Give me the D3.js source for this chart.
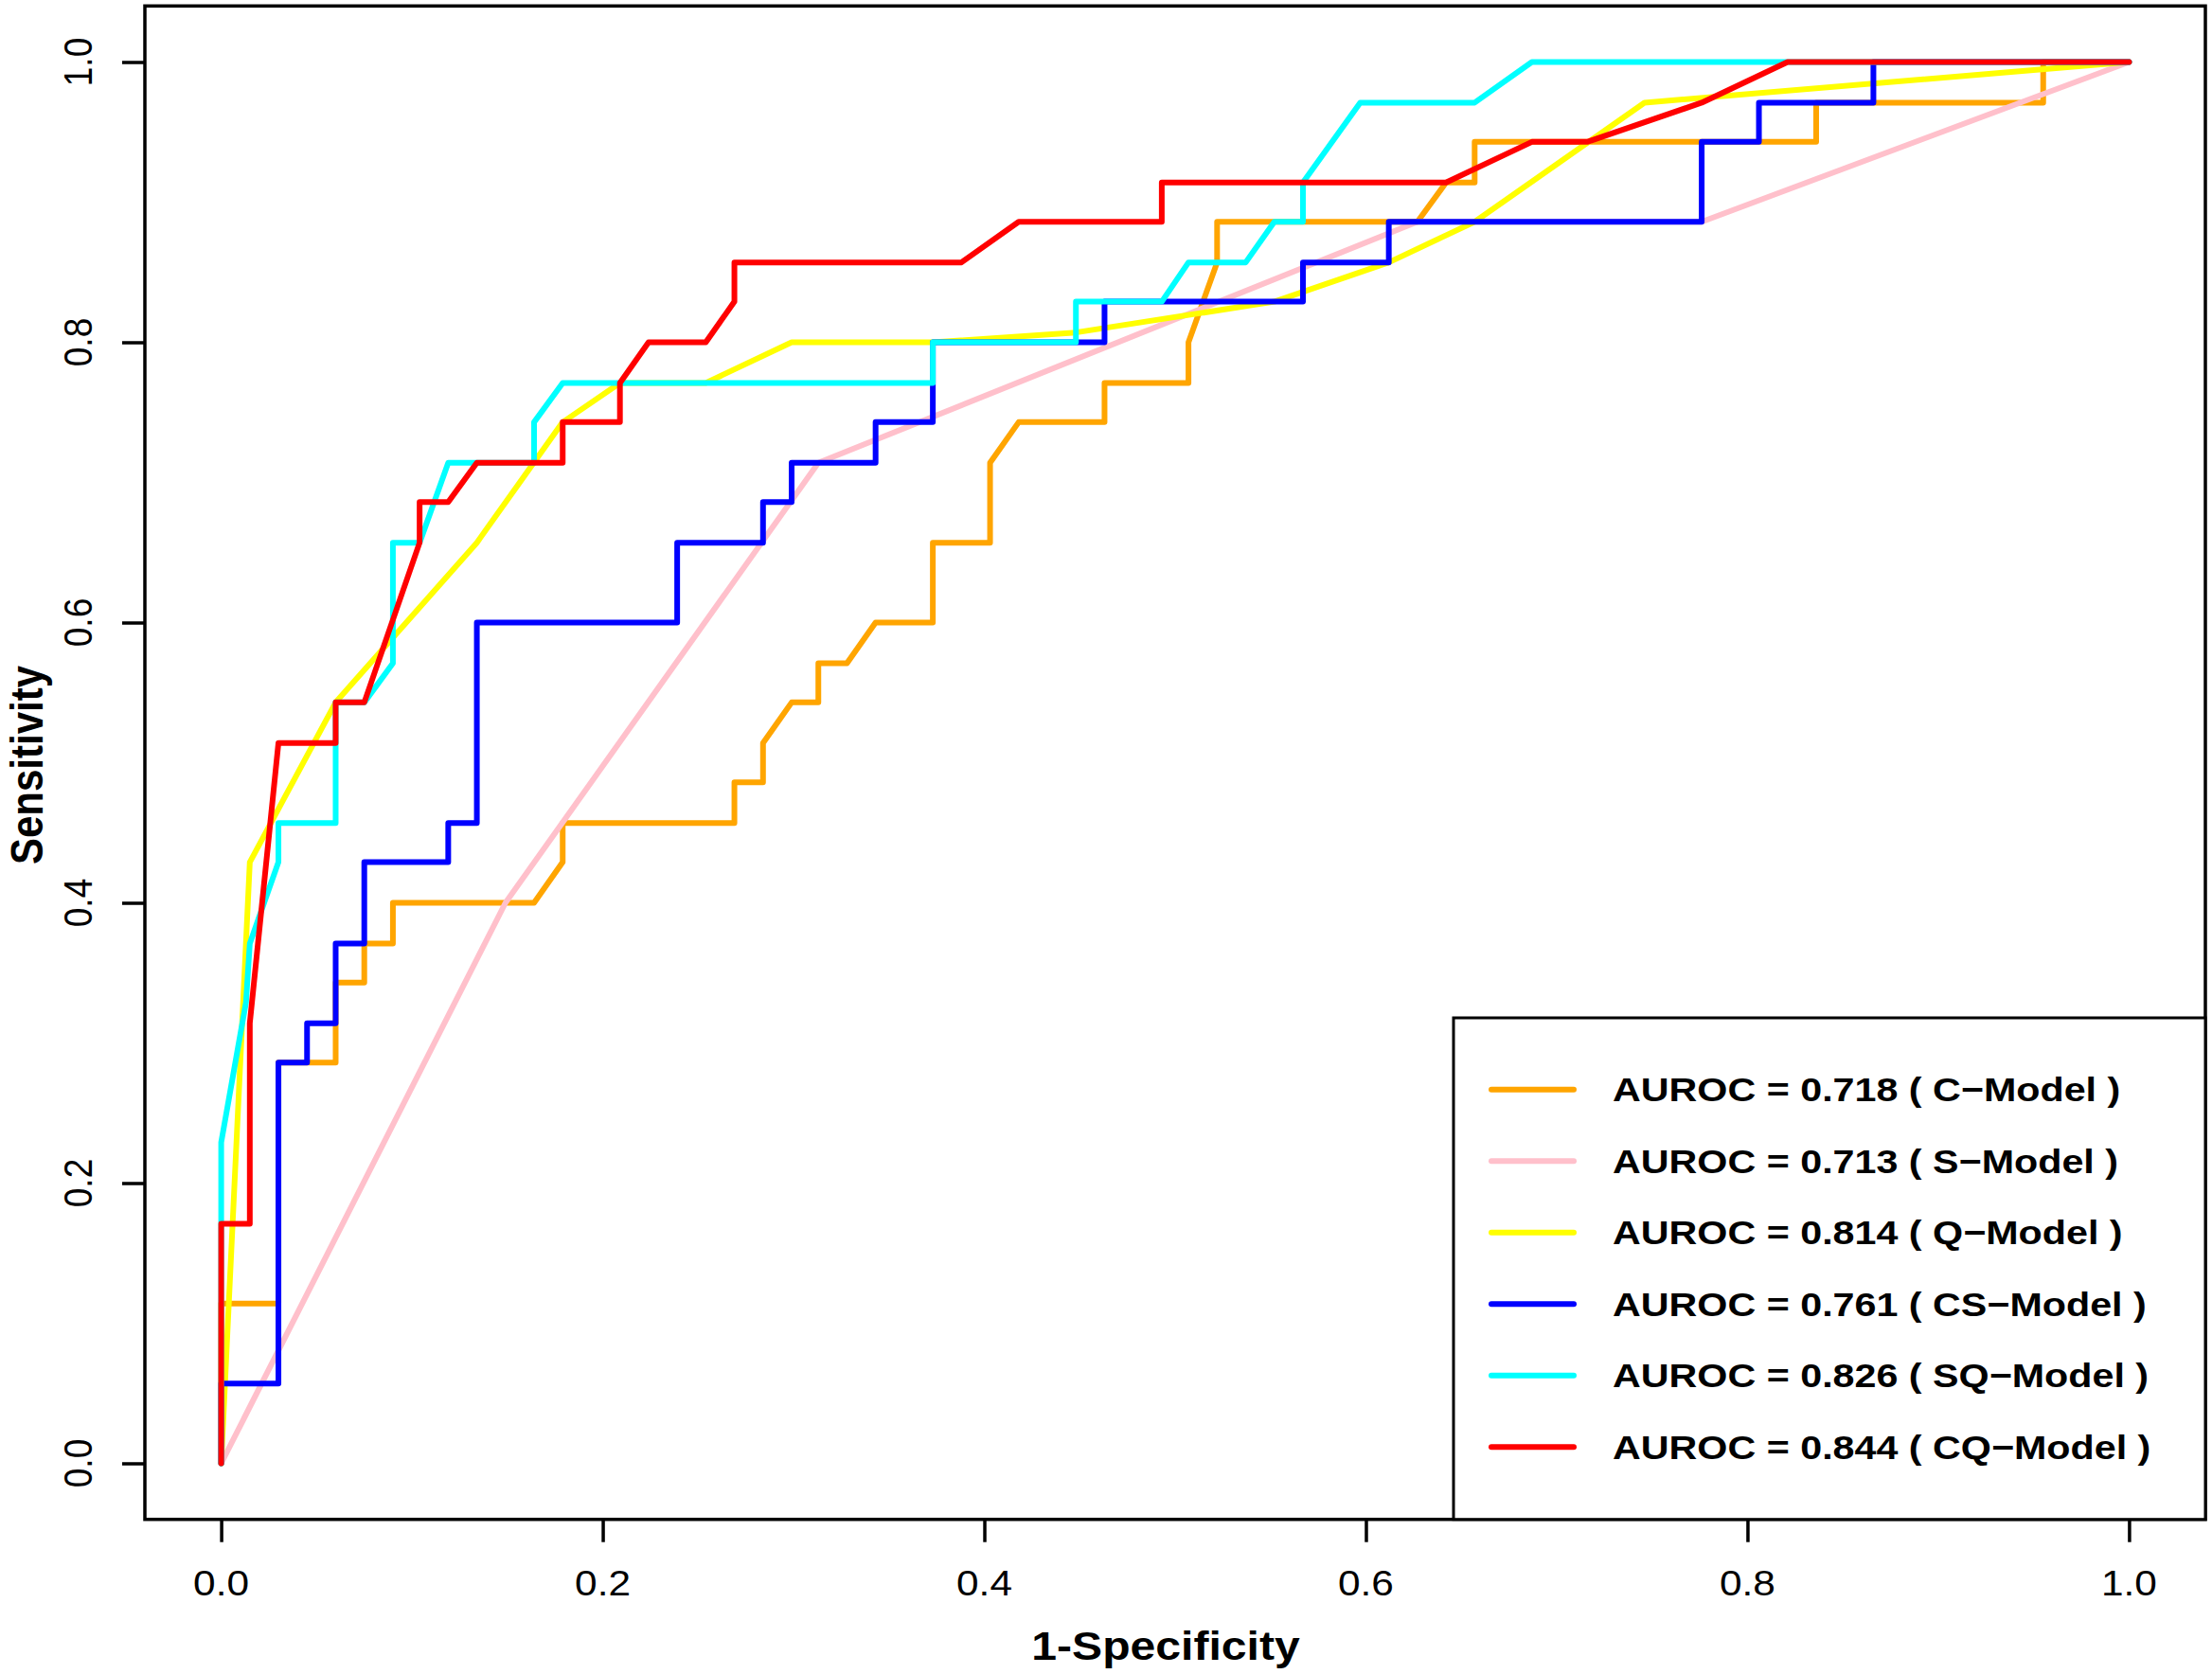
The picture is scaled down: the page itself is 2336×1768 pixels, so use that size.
<!DOCTYPE html>
<html><head><meta charset="utf-8">
<script src="https://cdn.jsdelivr.net/npm/d3@7"></script>
<style>body{margin:0;background:#fff}svg{display:block}</style>
</head><body>
<script>
// ---- data ----
const models = ["C-Model", "S-Model", "Q-Model", "CS-Model", "SQ-Model", "CQ-Model"];
const aurocs = [0.718, 0.713, 0.814, 0.761, 0.826, 0.844];
const colors = ["#FFA500", "#FFC0CB", "#FFFF00", "#0000FF", "#00FFFF", "#FF0000"];
const xTicks = [0, 0.2, 0.4, 0.6, 0.8, 1.0];
const yTicks = [0, 0.2, 0.4, 0.6, 0.8, 1.0];
const xTitle = "1-Specificity";
const yTitle = "Sensitivity";

const fprC = [0, 0, 0.030, 0.030, 0.060, 0.060, 0.075, 0.075, 0.090, 0.090, 0.164, 0.179, 0.179, 0.269, 0.269, 0.284, 0.284, 0.299, 0.313, 0.313, 0.328, 0.343, 0.373, 0.373, 0.403, 0.403, 0.418, 0.463, 0.463, 0.507, 0.507, 0.522, 0.522, 0.627, 0.642, 0.657, 0.657, 0.836, 0.836, 0.955, 0.955, 1];
const tprC = [0, 0.114, 0.114, 0.286, 0.286, 0.343, 0.343, 0.371, 0.371, 0.400, 0.400, 0.429, 0.457, 0.457, 0.486, 0.486, 0.514, 0.543, 0.543, 0.571, 0.571, 0.600, 0.600, 0.657, 0.657, 0.714, 0.743, 0.743, 0.771, 0.771, 0.800, 0.857, 0.886, 0.886, 0.914, 0.914, 0.943, 0.943, 0.971, 0.971, 1, 1];

const fprS = [0, 0.149, 0.313, 0.627, 0.776, 1];
const tprS = [0, 0.400, 0.714, 0.886, 0.886, 1];

const fprQ = [0, 0.015, 0.060, 0.134, 0.179, 0.209, 0.254, 0.299, 0.373, 0.448, 0.552, 0.612, 0.657, 0.746, 1];
const tprQ = [0, 0.429, 0.543, 0.657, 0.743, 0.771, 0.771, 0.800, 0.800, 0.807, 0.829, 0.857, 0.886, 0.971, 1];

const fprCS = [0, 0, 0.030, 0.030, 0.045, 0.045, 0.060, 0.060, 0.075, 0.075, 0.119, 0.119, 0.134, 0.134, 0.239, 0.239, 0.284, 0.284, 0.299, 0.299, 0.343, 0.343, 0.373, 0.373, 0.463, 0.463, 0.567, 0.567, 0.612, 0.612, 0.776, 0.776, 0.806, 0.806, 0.866, 0.866, 1];
const tprCS = [0, 0.057, 0.057, 0.286, 0.286, 0.314, 0.314, 0.371, 0.371, 0.429, 0.429, 0.457, 0.457, 0.600, 0.600, 0.657, 0.657, 0.686, 0.686, 0.714, 0.714, 0.743, 0.743, 0.800, 0.800, 0.829, 0.829, 0.857, 0.857, 0.886, 0.886, 0.943, 0.943, 0.971, 0.971, 1, 1];

const fprSQ = [0, 0, 0.013, 0.015, 0.030, 0.030, 0.060, 0.060, 0.075, 0.090, 0.090, 0.104, 0.119, 0.164, 0.164, 0.179, 0.373, 0.373, 0.448, 0.448, 0.493, 0.507, 0.537, 0.552, 0.567, 0.567, 0.597, 0.657, 0.687, 1];
const tprSQ = [0, 0.229, 0.329, 0.371, 0.429, 0.457, 0.457, 0.543, 0.543, 0.571, 0.657, 0.657, 0.714, 0.714, 0.743, 0.771, 0.771, 0.800, 0.800, 0.829, 0.829, 0.857, 0.857, 0.886, 0.886, 0.914, 0.971, 0.971, 1, 1];

const fprCQ = [0, 0, 0.015, 0.015, 0.030, 0.060, 0.060, 0.075, 0.104, 0.104, 0.119, 0.134, 0.179, 0.179, 0.209, 0.209, 0.224, 0.254, 0.269, 0.269, 0.388, 0.418, 0.493, 0.493, 0.642, 0.687, 0.716, 0.776, 0.821, 1];
const tprCQ = [0, 0.171, 0.171, 0.314, 0.514, 0.514, 0.543, 0.543, 0.657, 0.686, 0.686, 0.714, 0.714, 0.743, 0.743, 0.771, 0.800, 0.800, 0.829, 0.857, 0.857, 0.886, 0.886, 0.914, 0.914, 0.943, 0.943, 0.971, 1, 1];

const fprs = [fprC, fprS, fprQ, fprCS, fprSQ, fprCQ];
const tprs = [tprC, tprS, tprQ, tprCS, tprSQ, tprCQ];

// ---- drawing ----
const W = 2336, H = 1768;
const SX = 1.146; // horizontal text stretch seen in the picture
const FONT = "'Liberation Sans', Arial, Helvetica, sans-serif";

const svg = d3.select("body").append("svg").attr("width", W).attr("height", H);
svg.append("rect").attr("width", W).attr("height", H).attr("fill", "#fff");

const x = d3.scaleLinear().domain([-0.04, 1.04]).range([153, 2329]);
const y = d3.scaleLinear().domain([-0.04, 1.04]).range([1604.7, 6.3]);

function stext(g, tx, ty, rot, str, size, weight, anchor) {
  return g.append("text")
    .attr("transform", `translate(${tx},${ty}) scale(${SX},1)` + (rot ? ` rotate(${rot})` : ""))
    .attr("text-anchor", anchor)
    .attr("font-family", FONT)
    .attr("font-size", size)
    .attr("font-weight", weight)
    .attr("fill", "#000")
    .text(str);
}

// curves
const line = d3.line().x(d => x(d[0])).y(d => y(d[1]));
const curves = svg.append("g");
models.forEach((m, i) => {
  const pts = fprs[i].map((v, j) => [v, tprs[i][j]]);
  curves.append("path")
    .attr("d", line(pts))
    .attr("fill", "none")
    .attr("stroke", colors[i])
    .attr("stroke-width", 6)
    .attr("stroke-linecap", "round")
    .attr("stroke-linejoin", "round");
});

// axes (ticks only)
const xAxis = d3.axisBottom(x).tickValues(xTicks).tickSize(24).tickFormat("");
const yAxis = d3.axisLeft(y).tickValues(yTicks).tickSize(24).tickFormat("");
const gx = svg.append("g").attr("transform", `translate(0,${y.range()[0]})`).call(xAxis);
const gy = svg.append("g").attr("transform", `translate(${x.range()[0]},0)`).call(yAxis);
[gx, gy].forEach(g => {
  g.select(".domain").remove();
  g.selectAll(".tick line").attr("stroke", "#000").attr("stroke-width", 3.5);
});

const fmt = d3.format(".1f");
xTicks.forEach(t => stext(svg, x(t), 1685, 0, fmt(t), 37, "normal", "middle"));
yTicks.forEach(t => stext(svg, 97, y(t), -90, fmt(t), 37, "normal", "middle"));

// box
svg.append("rect")
  .attr("x", x.range()[0]).attr("y", y.range()[1])
  .attr("width", x.range()[1] - x.range()[0])
  .attr("height", y.range()[0] - y.range()[1])
  .attr("fill", "none").attr("stroke", "#000").attr("stroke-width", 3.5);

// titles
stext(svg, 1231, 1753, 0, xTitle, 42, "bold", "middle");
stext(svg, 45, 808, -90, yTitle, 42, "bold", "middle");

// legend
const lg = svg.append("g");
lg.append("rect")
  .attr("x", 1535).attr("y", 1075)
  .attr("width", x.range()[1] - 1535).attr("height", y.range()[0] - 1075)
  .attr("fill", "#fff").attr("stroke", "#000").attr("stroke-width", 3);
models.forEach((m, i) => {
  const ry = 1150.7 + i * 75.5;
  lg.append("line")
    .attr("x1", 1575).attr("x2", 1662).attr("y1", ry).attr("y2", ry)
    .attr("stroke", colors[i]).attr("stroke-width", 6).attr("stroke-linecap", "round");
  stext(lg, 1703, ry + 12.5, 0,
    `AUROC = ${aurocs[i].toFixed(3)} ( ${m.replace("-", "\u2212")} )`, 36, "bold", "start");
});
</script>
</body></html>
